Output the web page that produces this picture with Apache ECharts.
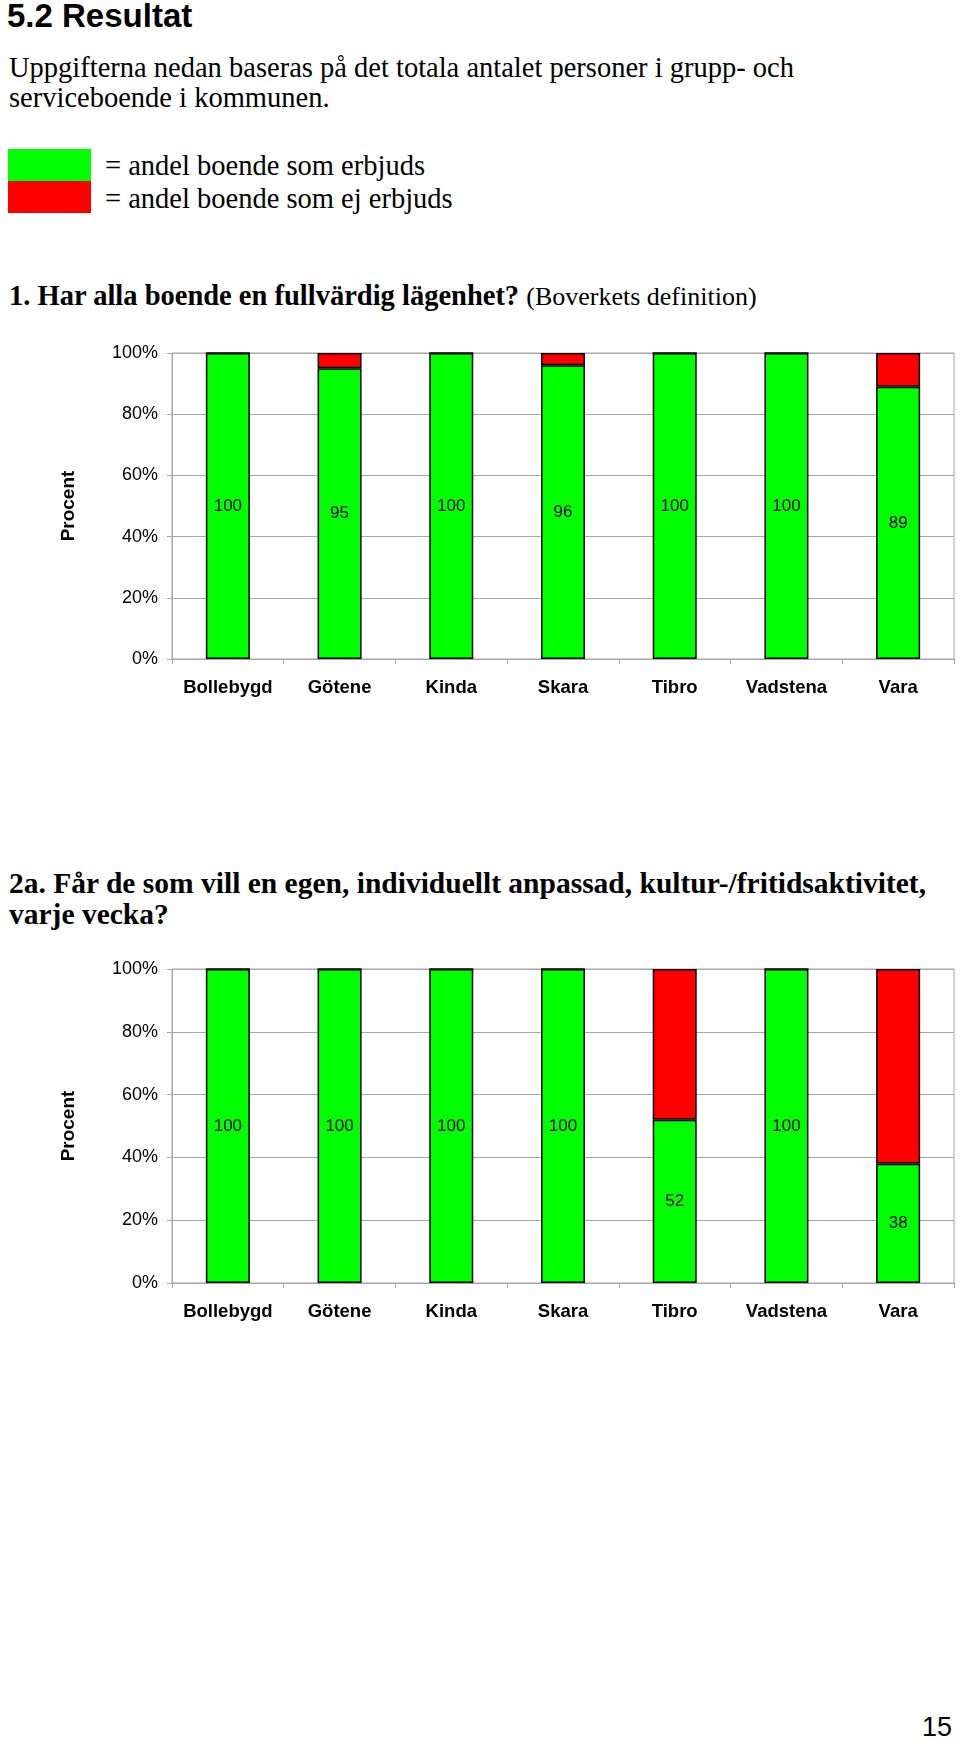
<!DOCTYPE html>
<html>
<head>
<meta charset="utf-8">
<script src="https://cdn.jsdelivr.net/npm/echarts@6/dist/echarts.min.js"></script>
<style>
  html, body { margin: 0; padding: 0; background: #fff; }
  body { width: 960px; height: 1741px; position: relative; overflow: hidden; }
  .t { position: absolute; white-space: nowrap; color: #000; }
  .sans { font-family: "Liberation Sans", Arial, sans-serif; }
  .serif { font-family: "Liberation Serif", "Times New Roman", serif; }
  .box { position: absolute; left: 8px; width: 83px; height: 32px; }
  .chart { position: absolute; left: 0; width: 960px; }
</style>
</head>
<body>
  <div class="t sans" style="left:7px; top:-2px; font-size:33px; font-weight:bold; line-height:36px;">5.2 Resultat</div>
  <div class="t serif" style="left:9px; top:53px; font-size:28.5px; line-height:30px;">Uppgifterna nedan baseras på det totala antalet personer i grupp- och</div>
  <div class="t serif" style="left:9px; top:83px; font-size:28.5px; line-height:30px;">serviceboende i kommunen.</div>

  <div class="box" style="top:149px; background:#00ff00;"></div>
  <div class="box" style="top:181px; background:#ff0000;"></div>
  <div class="t serif" style="left:105px; top:151px; font-size:28.5px; line-height:30px;">= andel boende som erbjuds</div>
  <div class="t serif" style="left:105px; top:184px; font-size:28.5px; line-height:30px;">= andel boende som ej erbjuds</div>

  <div class="t serif" style="left:9px; top:281px; font-size:28.5px; line-height:30px;"><b>1. Har alla boende en fullvärdig lägenhet?</b> <span style="font-size:26px;">(Boverkets definition)</span></div>
  <div id="chart1" class="chart" style="top:330px; height:400px;"></div>

  <div class="t serif" style="left:9px; top:868px; font-size:29.5px; line-height:30px; font-weight:bold;">2a. Får de som vill en egen, individuellt anpassad, kultur-/fritidsaktivitet,</div>
  <div class="t serif" style="left:9px; top:899px; font-size:29.5px; line-height:30px; font-weight:bold;">varje vecka?</div>
  <div id="chart2" class="chart" style="top:940px; height:420px;"></div>

  <div class="t sans" style="left:922px; top:1712px; font-size:27px; line-height:30px;">15</div>

<script>
  // kommuner
  const categories = ['Bollebygd', 'Götene', 'Kinda', 'Skara', 'Tibro', 'Vadstena', 'Vara'];
  const yTicks = [0, 20, 40, 60, 80, 100];

  // fråga 1: fullvärdig lägenhet
  const q1Erbjuds = [100, 95, 100, 96, 100, 100, 89];
  const q1EjErbjuds = [0, 5, 0, 4, 0, 0, 11];

  // fråga 2a: kultur-/fritidsaktivitet varje vecka
  const q2Erbjuds = [100, 100, 100, 100, 52, 100, 38];
  const q2EjErbjuds = [0, 0, 0, 0, 48, 0, 62];

  const gridColor = '#a6a6a6';

  function makeOption(erbjuds, ejErbjuds, gridTop, gridHeight) {
    return {
      animation: false,
      grid: {
        left: 172, top: gridTop, width: 782, height: gridHeight,
        show: true, borderColor: gridColor, borderWidth: 1
      },
      xAxis: {
        type: 'category',
        data: categories,
        axisLine: { lineStyle: { color: gridColor, width: 1 } },
        axisTick: { show: true, length: 5, interval: 0, lineStyle: { color: gridColor } },
        axisLabel: {
          interval: 0,
          margin: 20, color: '#000', fontSize: 18.5, fontWeight: 'bold',
          fontFamily: 'Liberation Sans, Arial, sans-serif', lineHeight: 18
        }
      },
      yAxis: {
        type: 'value',
        min: yTicks[0], max: yTicks[yTicks.length - 1], interval: 20,
        name: 'Procent',
        nameLocation: 'middle',
        nameGap: 94,
        nameTextStyle: {
          color: '#000', fontSize: 19, fontWeight: 'bold',
          fontFamily: 'Liberation Sans, Arial, sans-serif'
        },
        axisLine: { show: true, lineStyle: { color: gridColor, width: 1 } },
        axisTick: { show: true, length: 5, lineStyle: { color: gridColor } },
        splitLine: { lineStyle: { color: gridColor, width: 1 } },
        axisLabel: {
          margin: 14, color: '#000', fontSize: 18,
          fontFamily: 'Liberation Sans, Arial, sans-serif',
          formatter: v => v + '%'
        }
      },
      series: [
        {
          name: 'andel boende som erbjuds',
          type: 'bar', stack: 'total', barWidth: 44,
          data: erbjuds,
          itemStyle: { color: '#00ff00', borderColor: '#000', borderWidth: 1.5 },
          label: {
            show: true, position: 'inside', color: '#000', fontSize: 17,
            fontFamily: 'Liberation Sans, Arial, sans-serif'
          }
        },
        {
          name: 'andel boende som ej erbjuds',
          type: 'bar', stack: 'total', barWidth: 44,
          data: ejErbjuds,
          itemStyle: { color: '#ff0000', borderColor: '#000', borderWidth: 1.5 }
        }
      ]
    };
  }

  const chart1 = echarts.init(document.getElementById('chart1'));
  chart1.setOption(makeOption(q1Erbjuds, q1EjErbjuds, 23, 306));

  const chart2 = echarts.init(document.getElementById('chart2'));
  chart2.setOption(makeOption(q2Erbjuds, q2EjErbjuds, 29, 314));
</script>
</body>
</html>
